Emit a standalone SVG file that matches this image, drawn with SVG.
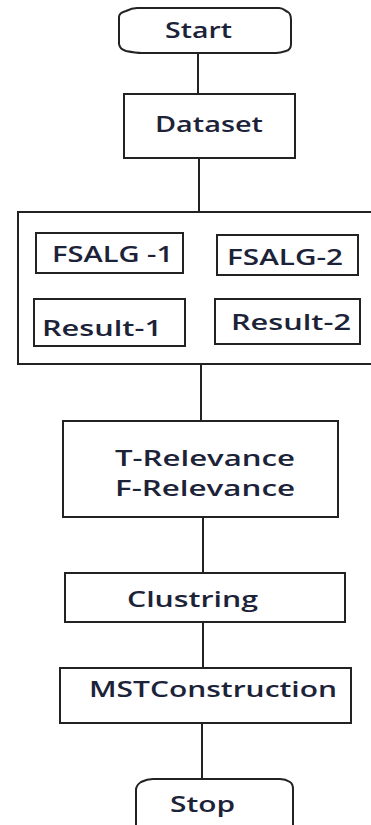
<svg xmlns="http://www.w3.org/2000/svg" width="371" height="825" viewBox="0 0 371 825">
<style>
.b{fill:#fff;stroke:#222;stroke-width:2}
.c{fill:none;stroke:#222;stroke-width:2}
text{font-family:"Open Sans","Liberation Sans",sans-serif;font-size:21px;font-weight:600;fill:#1c2338}
</style>
<rect width="371" height="825" fill="#fff"/>
<g id="connectors">
<line class="c" x1="198" y1="53" x2="198" y2="94"/>
<line class="c" x1="199" y1="158" x2="199" y2="212"/>
<line class="c" x1="201" y1="364" x2="201" y2="421"/>
<line class="c" x1="203" y1="517" x2="203" y2="573"/>
<line class="c" x1="203" y1="622" x2="203" y2="668"/>
<line class="c" x1="202" y1="723" x2="202" y2="779"/>
</g>
<g id="start">
<path class="b" d="M137,8 H279 C284,8 285,11 288,12 C291,14 291,17 291,20 V44 C291,48 290,50 286,51 C283,52 280,53 276,53 H142 C136,53 131,52 126,51 C121,49 120,48 119,44 V17 C119,14 122,12 126,11 C130,9 133,8 137,8 Z"/>
<text x="165" y="38" textLength="67" lengthAdjust="spacingAndGlyphs">Start</text>
</g>
<g id="dataset">
<rect class="b" x="124" y="94" width="171" height="64"/>
<text x="155" y="132" textLength="108" lengthAdjust="spacingAndGlyphs">Dataset</text>
</g>
<g id="group">
<rect class="b" x="18" y="212" width="356" height="152"/>
</g>
<g id="fsalg1">
<rect class="b" x="36" y="233" width="147" height="40"/>
<text x="52" y="262" textLength="121" lengthAdjust="spacingAndGlyphs">FSALG -1</text>
</g>
<g id="fsalg2">
<rect class="b" x="217" y="235" width="141" height="40"/>
<text x="227" y="265" textLength="116" lengthAdjust="spacingAndGlyphs">FSALG-2</text>
</g>
<g id="result1">
<rect class="b" x="34" y="299" width="151" height="47"/>
<text x="42" y="336" textLength="120" lengthAdjust="spacingAndGlyphs">Result-1</text>
</g>
<g id="result2">
<rect class="b" x="215" y="299" width="145" height="45"/>
<text x="231" y="330" textLength="120" lengthAdjust="spacingAndGlyphs">Result-2</text>
</g>
<g id="relevance">
<rect class="b" x="63" y="421" width="275" height="96"/>
<text x="115" y="466" textLength="180" lengthAdjust="spacingAndGlyphs" style="font-size:22px">T-Relevance</text>
<text x="115" y="496" textLength="180" lengthAdjust="spacingAndGlyphs" style="font-size:22px">F-Relevance</text>
</g>
<g id="clustring">
<rect class="b" x="65" y="573" width="280" height="49"/>
<text x="127" y="607" textLength="131" lengthAdjust="spacingAndGlyphs" style="font-size:22px">Clustring</text>
</g>
<g id="mst">
<rect class="b" x="60" y="668" width="291" height="55"/>
<text x="89" y="697" textLength="248" lengthAdjust="spacingAndGlyphs" style="font-size:22px">MSTConstruction</text>
</g>
<g id="stop">
<path class="b" d="M153,779 H280 C285,779 287,780 290,782 C293,784 293,786 293,789 V830 H136 V790 C136,786 138,784 141,782 C145,780 148,779 153,779 Z"/>
<text x="170" y="812" textLength="65" lengthAdjust="spacingAndGlyphs" style="font-size:22px">Stop</text>
</g>
</svg>
